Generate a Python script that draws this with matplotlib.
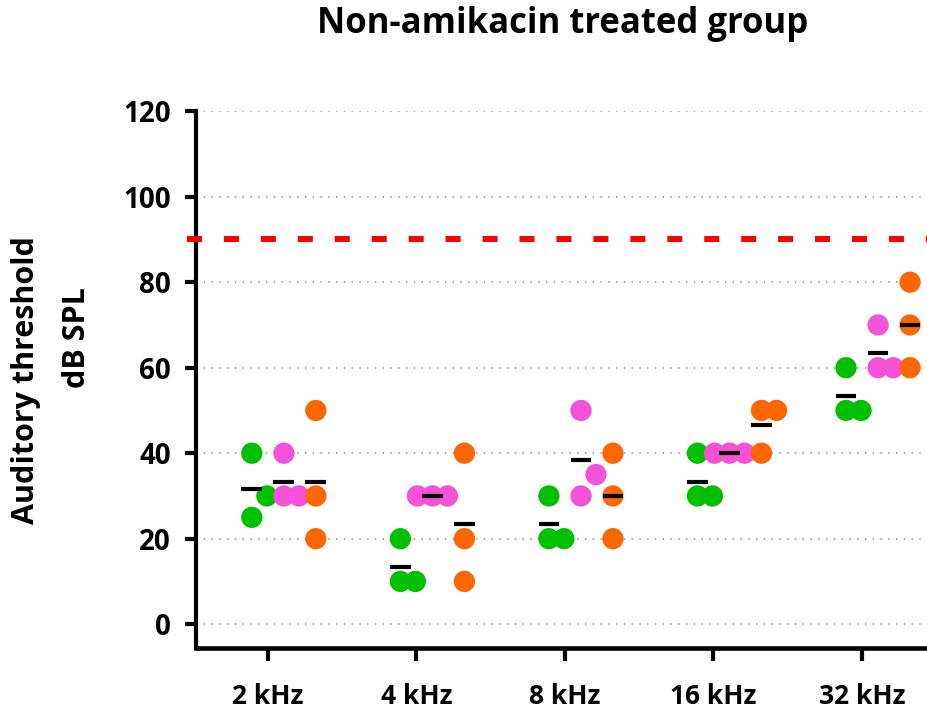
import numpy as np
import matplotlib
matplotlib.use("Agg")
import matplotlib.pyplot as plt

plt.rcParams['font.family'] = ['Open Sans', 'DejaVu Sans']
plt.rcParams['font.weight'] = 'bold'
plt.rcParams['lines.scale_dashes'] = False

# thresholds (dB SPL) per frequency, three groups of animals
freqs = ["2 kHz", "4 kHz", "8 kHz", "16 kHz", "32 kHz"]
green = [[40, 25, 30], [20, 10, 10], [30, 20, 20], [40, 30, 30], [60, 50, 50]]
pink = [[40, 30, 30], [30, 30, 30], [50, 30, 35], [40, 40, 40], [70, 60, 60]]
orange = [[50, 30, 20], [40, 20, 10], [40, 30, 20], [40, 50, 50], [80, 70, 60]]
cutoff = 90

groups = [(green, "#00c000", -0.108), (pink, "#f652d8", 0.108), (orange, "#ff6600", 0.323)]

fig = plt.figure(figsize=(9.28, 7.13), dpi=100)
ax = fig.add_axes([0.211, 0.091, 0.789, 0.753])
ax.set_xlim(-0.485, 4.444)
ax.set_ylim(-5.6, 120)

# pixel scales used for the swarm layout
px_x = 732 / (4.444 + 0.485)
px_y = 537 / 125.6


def swarm(vals, dy_px=22):
    # simple beeswarm: slot 0, +1, -1, +2 ... (slot = 15 px)
    placed = []
    slots = []
    for v in vals:
        y = v * px_y
        for c in [0, 1, -1, 2, -2, 3, -3]:
            if all(not (abs(y - py) < dy_px and c == pc) for py, pc in placed):
                break
        placed.append((y, c))
        slots.append(c)
    return np.array(slots) * 15 / px_x


for data, col, off in groups:
    for i, vals in enumerate(data):
        xs = i + off + swarm(vals)
        ax.scatter(xs, vals, s=235, color=col, edgecolors='none', zorder=3)
for data, col, off in groups:
    for i, vals in enumerate(data):
        m = np.mean(vals)
        ax.hlines(m, i + off - 0.07, i + off + 0.07, color='black', lw=3, zorder=5)

ax.axhline(cutoff, xmin=-0.012, xmax=1, color='red', lw=4.3,
           dashes=[10.8, 15.8], clip_on=False, zorder=4)

ax.set_yticks(np.arange(0, 121, 20))
ax.set_xticks(range(len(freqs)))
ax.set_xticklabels(freqs)
ax.yaxis.grid(True, color='#a0a0a0', lw=1.3, linestyle=(0, (1.0, 4.6)))
ax.set_axisbelow(True)

for s in ['top', 'right']:
    ax.spines[s].set_visible(False)
ax.spines['left'].set_linewidth(3)
ax.spines['bottom'].set_linewidth(3.3)
ax.tick_params(axis='y', length=8, width=3, labelsize=20, pad=10)
ax.tick_params(axis='x', length=9, width=3, labelsize=19, pad=16)

fig.text(0.606, 0.966, "Non-amikacin treated group", ha='center', va='center',
         fontsize=25, fontweight='bold')
fig.text(0.028, 0.467, "Auditory threshold", rotation=90, ha='center', va='center',
         fontsize=22, fontweight='bold')
fig.text(0.083, 0.527, "dB SPL", rotation=90, ha='center', va='center',
         fontsize=22, fontweight='bold')

fig.savefig("out.png", dpi=100)
